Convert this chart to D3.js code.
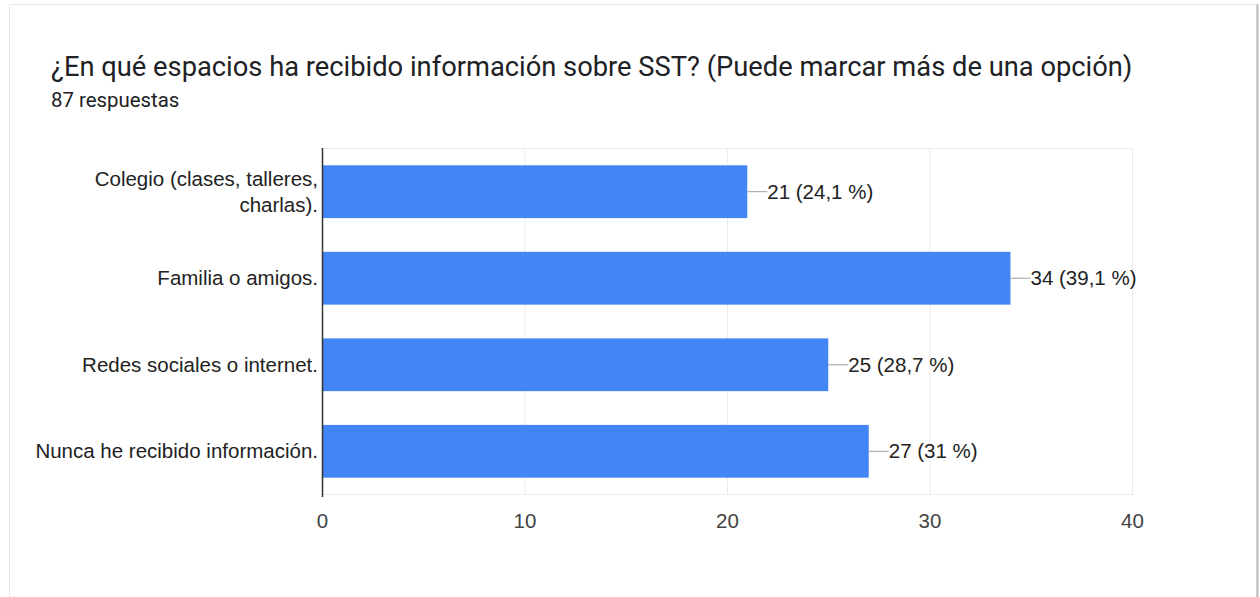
<!DOCTYPE html>
<html>
<head>
<meta charset="utf-8">
<script src="https://cdn.jsdelivr.net/npm/d3@7"></script>
<style>
  body { margin: 0; background: #fff; }
  svg { display: block; }
</style>
</head>
<body>
<div class="container"></div>
<script>
var categories = [
  ["Colegio (clases, talleres,", "charlas)."],
  ["Familia o amigos."],
  ["Redes sociales o internet."],
  ["Nunca he recibido información."]
];
var counts = [21, 34, 25, 27];
var labels = ["21 (24,1 %)", "34 (39,1 %)", "25 (28,7 %)", "27 (31 %)"];
var xTicks = [0, 10, 20, 30, 40];

var width = 1260, height = 597;
var margin = {top: 148, right: 128, bottom: 102, left: 322};
var plotW = width - margin.left - margin.right,
    plotH = height - margin.top - margin.bottom;
var labelFont = "Liberation Sans, Arial";
var labelSize = "20.5px";

var svg = d3.select("div.container").append("svg")
    .attr("width", width)
    .attr("height", height);

// card
svg.append("rect")
    .attr("x", 9.5).attr("y", 4.5)
    .attr("width", 1247).attr("height", 600)
    .attr("fill", "#fff")
    .attr("stroke", "#e8e8e8");
svg.append("line")
    .attr("x1", 1257.5).attr("x2", 1257.5)
    .attr("y1", 4).attr("y2", 597)
    .attr("stroke", "#bdbdbd").attr("stroke-width", 2);

svg.append("text")
    .attr("x", 51).attr("y", 76)
    .style("font-family", "Roboto")
    .style("font-size", "27.3px")
    .attr("fill", "#202124")
    .text("¿En qué espacios ha recibido información sobre SST? (Puede marcar más de una opción)");

svg.append("text")
    .attr("x", 51).attr("y", 107)
    .style("font-family", "Roboto")
    .style("font-size", "20.4px")
    .attr("fill", "#202124")
    .text("87 respuestas");

var x_scale = d3.scaleLinear().domain([0, 40]).range([0, plotW]);
var y_scale = d3.scaleBand().domain(d3.range(categories.length))
    .range([0, plotH]).paddingInner(0.39).paddingOuter(0.2);

var g = svg.append("g")
    .attr("transform", "translate(" + margin.left + "," + margin.top + ")");

// grid
g.append("g")
    .call(d3.axisBottom(x_scale).tickValues(xTicks).tickSize(plotH).tickFormat(""))
    .call(function(a) {
      a.select(".domain").remove();
      a.selectAll("line").attr("stroke", "#ebebeb");
    });
g.append("line")
    .attr("x1", 0).attr("x2", plotW).attr("y1", 0.5).attr("y2", 0.5)
    .attr("stroke", "#ebebeb");
g.append("line")
    .attr("x1", 0).attr("x2", plotW).attr("y1", plotH - 0.5).attr("y2", plotH - 0.5)
    .attr("stroke", "#ebebeb");

// x tick labels
g.append("g")
    .attr("transform", "translate(0," + plotH + ")")
    .call(d3.axisBottom(x_scale).tickValues(xTicks).tickSize(0).tickPadding(18))
    .call(function(a) {
      a.select(".domain").remove();
      a.selectAll("text")
        .style("font-family", labelFont)
        .style("font-size", labelSize)
        .attr("fill", "#444");
    });

// bars
g.selectAll("rect.bar")
    .data(counts)
    .enter().append("rect")
    .attr("class", "bar")
    .attr("x", 0)
    .attr("y", function(d, i) { return y_scale(i); })
    .attr("width", function(d) { return x_scale(d); })
    .attr("height", y_scale.bandwidth())
    .attr("fill", "#4285f4");

// value connectors and labels
g.selectAll("line.conn")
    .data(counts)
    .enter().append("line")
    .attr("x1", function(d) { return x_scale(d); })
    .attr("x2", function(d) { return x_scale(d) + 20; })
    .attr("y1", function(d, i) { return y_scale(i) + y_scale.bandwidth() / 2; })
    .attr("y2", function(d, i) { return y_scale(i) + y_scale.bandwidth() / 2; })
    .attr("stroke", "#9e9e9e");

g.selectAll("text.val")
    .data(counts)
    .enter().append("text")
    .attr("class", "val")
    .attr("x", function(d) { return x_scale(d) + 20; })
    .attr("y", function(d, i) { return y_scale(i) + y_scale.bandwidth() / 2; })
    .attr("dy", "0.35em")
    .style("font-family", labelFont)
    .style("font-size", labelSize)
    .attr("fill", "#222")
    .text(function(d, i) { return labels[i]; });

// category labels
g.selectAll("text.cat")
    .data(categories)
    .enter().append("text")
    .attr("class", "cat")
    .attr("text-anchor", "end")
    .style("font-family", labelFont)
    .style("font-size", labelSize)
    .attr("fill", "#222")
    .each(function(lines, i) {
      var cy = y_scale(i) + y_scale.bandwidth() / 2;
      var t = d3.select(this);
      lines.forEach(function(s, k) {
        t.append("tspan")
          .attr("x", -4)
          .attr("y", cy + (k - (lines.length - 1) / 2) * 26)
          .attr("dy", "0.35em")
          .text(s);
      });
    });

// axis line
g.append("line")
    .attr("x1", 0.5).attr("x2", 0.5).attr("y1", 0).attr("y2", plotH + 2)
    .attr("stroke", "#333").attr("stroke-width", 1.5);
</script>
</body>
</html>
